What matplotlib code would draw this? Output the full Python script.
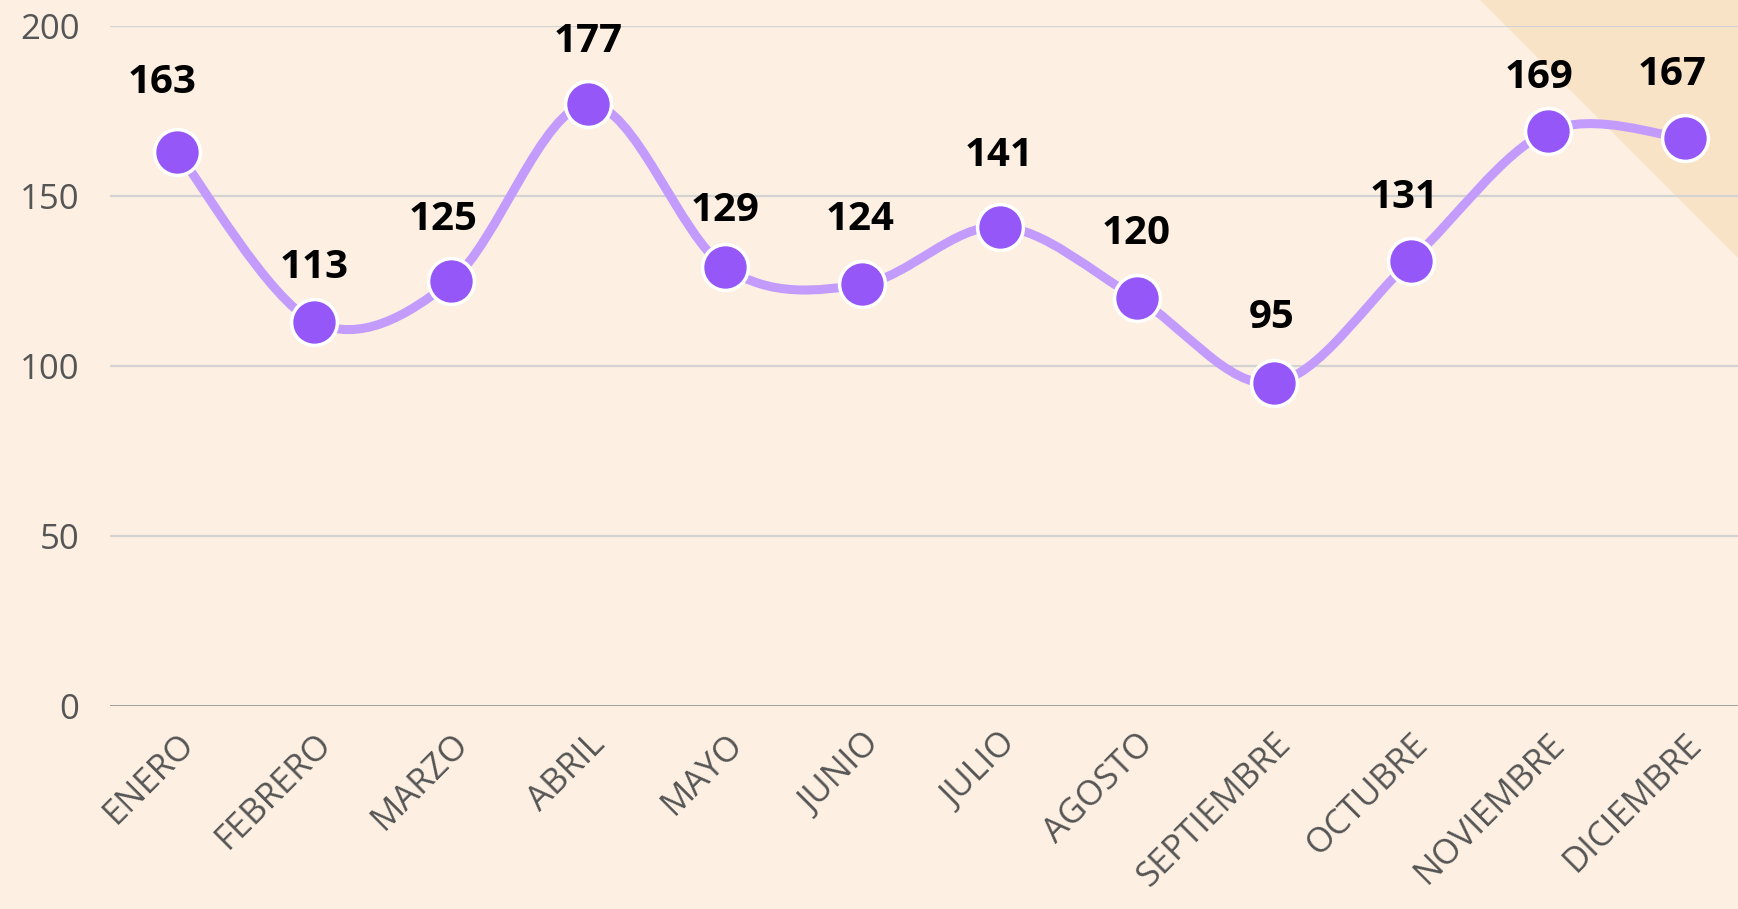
import matplotlib.pyplot as plt
from matplotlib.path import Path
from matplotlib.patches import PathPatch, Polygon

# data
months = ["ENERO", "FEBRERO", "MARZO", "ABRIL", "MAYO", "JUNIO", "JULIO",
          "AGOSTO", "SEPTIEMBRE", "OCTUBRE", "NOVIEMBRE", "DICIEMBRE"]
values = [163, 113, 125, 177, 129, 124, 141, 120, 95, 131, 169, 167]
y_ticks = [0, 50, 100, 150, 200]

# label nudges in pixels (dx, dy) relative to each point
label_dx = [-15, 0, -8, 0, 0, -2, 0, 0, -2, -7, -9, -13]
label_dy = [69, 54, 61, 63, 57, 65, 71, 65, 65, 63, 54, 64]

bg = "#fdf0e2"
line_col = "#c39bfd"
dot_col = "#9557f8"
tick_col = "#555555"
font = ["Open Sans", "DejaVu Sans"]

fig = plt.figure(figsize=(17.38, 9.09), dpi=100, facecolor=bg)
# decorative corner triangle, behind the axes
fig.patches.append(Polygon([(1480 / 1738, 1), (1, 1), (1, 1 - 258 / 909)],
                           closed=True, transform=fig.transFigure,
                           facecolor="#f9e3c6", edgecolor="none", zorder=-5))

ax = fig.add_axes([110 / 1738, 203 / 909, 1 - 110 / 1738, 680 / 909])
ax.set_facecolor("none")

x = list(range(len(values)))

# smooth line through points (Catmull-Rom as cubic Bezier segments)
verts = [(x[0], values[0])]
codes = [Path.MOVETO]
n = len(values)
for i in range(n - 1):
    p0 = values[i - 1] if i > 0 else values[i]
    p3 = values[i + 2] if i + 2 < n else values[i + 1]
    x0 = x[i - 1] if i > 0 else x[i]
    x3 = x[i + 2] if i + 2 < n else x[i + 1]
    c1 = (x[i] + (x[i + 1] - x0) / 6, values[i] + (values[i + 1] - p0) / 6)
    c2 = (x[i + 1] - (x3 - x[i]) / 6, values[i + 1] - (p3 - values[i]) / 6)
    verts += [c1, c2, (x[i + 1], values[i + 1])]
    codes += [Path.CURVE4] * 3
ax.add_patch(PathPatch(Path(verts, codes), facecolor="none", edgecolor=line_col,
                       lw=6.5, capstyle="round", zorder=3))

ax.plot(x, values, linestyle="none", marker="o", markersize=33,
        markerfacecolor=dot_col, markeredgecolor="white", markeredgewidth=2.5,
        zorder=4)

for i, v in enumerate(values):
    ax.annotate(str(v), (x[i], v), xytext=(label_dx[i] * 0.72, label_dy[i] * 0.72),
                textcoords="offset points", ha="center", va="center",
                fontsize=29, fontweight="bold", family=font, color="black",
                zorder=5)

ax.set_ylim(0, 200)
ax.set_xlim(-0.489, 11.387)
ax.set_yticks(y_ticks)
ax.set_xticks(x)
ax.set_xticklabels(months, rotation=45, ha="right", rotation_mode="anchor",
                   family=font, fontsize=25, color=tick_col)
ax.set_yticklabels([str(t) for t in y_ticks], family=font, fontsize=25,
                   color=tick_col)
ax.tick_params(axis="both", length=0)
ax.tick_params(axis="y", pad=22)
ax.tick_params(axis="x", pad=15)

for t in y_ticks[1:]:
    ax.axhline(t, color="#d3d3d3", lw=1.6, zorder=1)
ax.axhline(0, color="#999999", lw=2, zorder=1)
for s in ax.spines.values():
    s.set_visible(False)

fig.savefig("out.png", dpi=100, facecolor=bg)
